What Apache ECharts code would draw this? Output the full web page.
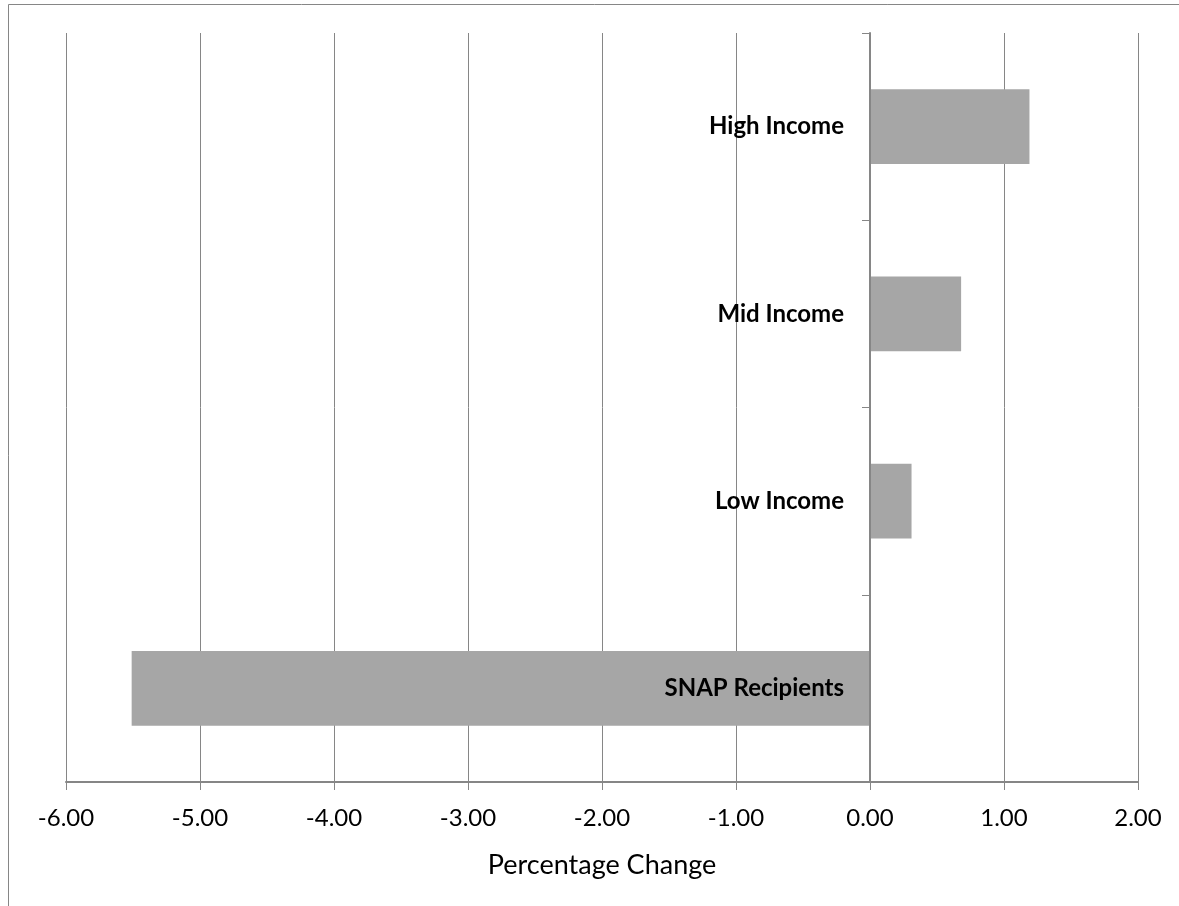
<!DOCTYPE html>
<html>
<head>
<meta charset="utf-8">
<script src="https://cdn.jsdelivr.net/npm/echarts@6/dist/echarts.min.js"></script>
<style>
  html, body { margin: 0; padding: 0; background: #fff; }
  #chart { width: 1179px; height: 906px; }
</style>
</head>
<body>
<div id="chart"></div>
<script>
// Groups, listed bottom to top along the category axis
const categories = ['SNAP Recipients', 'Low Income', 'Mid Income', 'High Income'];
// Percentage change per group
const changes = [-5.51, 0.31, 0.68, 1.19];
// Value axis range and step
const axisMin = -6;
const axisMax = 2;
const axisStep = 1;

const font = 'Lato, "Open Sans", sans-serif';
const gray = '#868686';

// Group names sit just left of the zero line: outside-left for positive
// bars, inside-right for negative ones.
const barData = changes.map(v => ({
  value: v,
  label: { position: v >= 0 ? 'left' : 'insideRight' }
}));

const chart = echarts.init(document.getElementById('chart'), null, { renderer: 'canvas' });
chart.setOption({
  animation: false,
  backgroundColor: '#ffffff',
  graphic: [{
    type: 'rect',
    shape: { x: 8.5, y: 4.5, width: 1300, height: 1000 },
    style: { fill: 'none', stroke: gray, lineWidth: 1 },
    silent: true,
    z: -10
  }],
  grid: {
    left: 66, right: 41, top: 33, bottom: 124,
    containLabel: false,
    outerBoundsMode: 'none'
  },
  xAxis: {
    type: 'value',
    min: axisMin,
    max: axisMax,
    interval: axisStep,
    name: 'Percentage Change',
    nameLocation: 'middle',
    nameGap: 70,
    nameTextStyle: { fontFamily: font, fontSize: 27, color: '#000' },
    axisLine: { show: true, onZero: false, lineStyle: { color: gray, width: 2 } },
    axisTick: { show: true, length: 8, lineStyle: { color: gray } },
    axisLabel: {
      margin: 24,
      fontFamily: font,
      fontSize: 24,
      color: '#000',
      formatter: v => v.toFixed(2)
    },
    splitLine: { show: true, lineStyle: { color: gray, width: 1 } }
  },
  yAxis: {
    type: 'category',
    data: categories,
    z: 5,
    axisLine: { show: true, onZero: true, lineStyle: { color: gray, width: 2 } },
    axisTick: { show: true, length: 8, inside: false, lineStyle: { color: gray } },
    axisLabel: { show: false },
    splitLine: { show: false }
  },
  series: [{
    type: 'bar',
    data: barData,
    barCategoryGap: '60%',
    itemStyle: { color: '#a6a6a6' },
    label: {
      show: true,
      formatter: '{b}',
      distance: 26,
      fontFamily: font,
      fontSize: 24,
      fontWeight: 'bold',
      color: '#000'
    },
    z: 2
  }]
});
</script>
</body>
</html>
